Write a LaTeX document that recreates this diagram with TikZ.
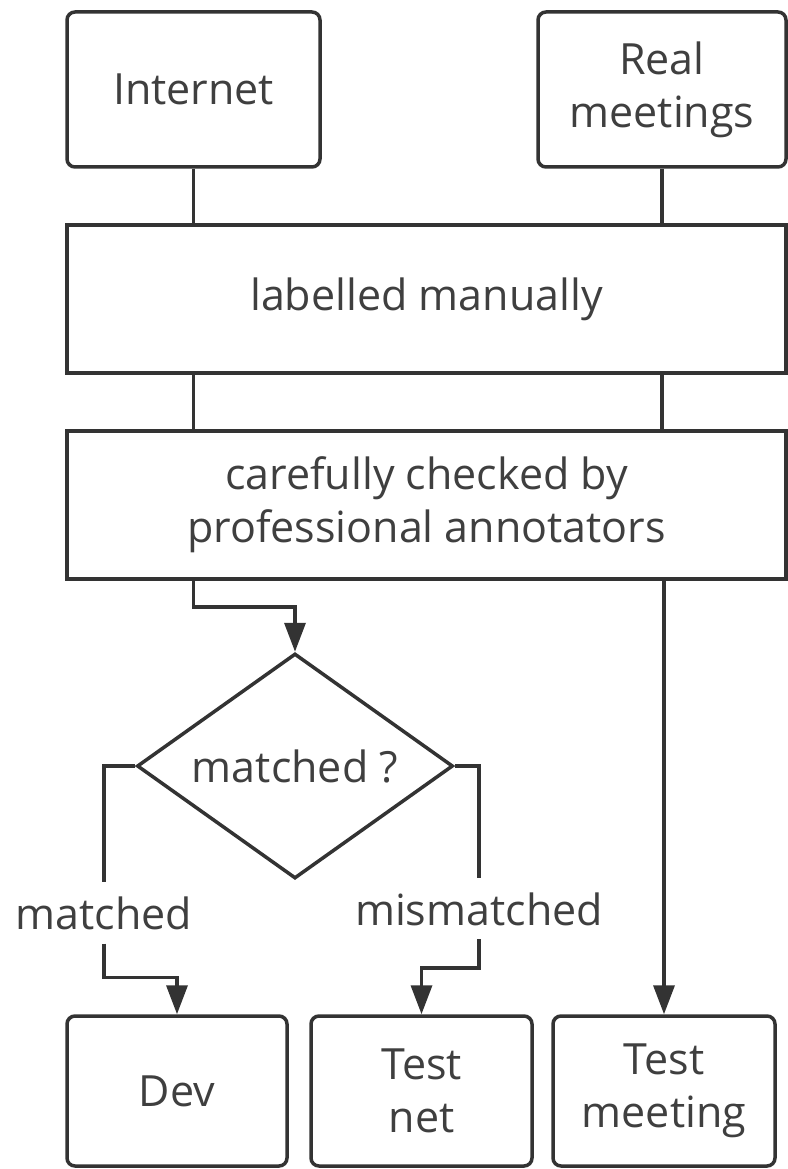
\documentclass[tikz,border=0pt]{standalone}
\usepackage{fontspec}
\setmainfont{Open Sans}
\usetikzlibrary{shapes.geometric,arrows.meta}
\definecolor{linegray}{HTML}{333333}
\definecolor{textgray}{HTML}{3F3F3F}

\begin{document}
\begin{tikzpicture}[x=1pt,y=-1pt]
\tikzstyle{every node}+=[inner sep=0pt, text=textgray, font=\fontsize{43}{53}\selectfont]
\tikzstyle{srcbox}=[draw=linegray, line width=3.5pt, rounded corners=8pt, align=center]
\tikzstyle{stagebox}=[draw=linegray, line width=3.5pt, minimum width=719pt, minimum height=148pt, align=center]
\tikzstyle{wire}=[draw=linegray, line width=3.5pt]
\tikzstyle{flow}=[wire, -{Triangle[length=29pt,width=21pt]}]
\tikzstyle{edgelabel}=[text height=33pt, text depth=0pt, inner ysep=14pt]
\useasboundingbox (0,0) rectangle (787,1169);
\node[srcbox, minimum width=253pt, minimum height=155pt] (internet) at (193.5,89.5) {Internet};
\node[srcbox, minimum width=248pt, minimum height=155pt] (real) at (662,89.5) {Real\\meetings};
\node[stagebox] (labelled) at (426.5,299) {labelled manually};
\node[stagebox] (checked) at (426.5,505) {carefully checked by\\professional annotators};
\node[draw=linegray, line width=3.5pt, shape=diamond, minimum width=316pt, minimum height=225pt] (match) at (295,766) {\makebox[0pt]{matched ?}};
\node[srcbox, minimum width=220pt, minimum height=150pt] (dev) at (177,1091) {Dev};
\node[srcbox, minimum width=221pt, minimum height=150pt] (testnet) at (421.5,1091) {Test\\net};
\node[srcbox, minimum width=222pt, minimum height=150pt] (testmeet) at (664,1091) {Test\\meeting};
\node[edgelabel] (yes) at (104,913) {matched};
\node[edgelabel] (no) at (479,908.5) {mismatched};
\draw[wire] (internet.south) -- (internet.south |- labelled.north);
\draw[wire] (real.south) -- (real.south |- labelled.north);
\draw[wire] (labelled.south -| internet.south) -- (checked.north -| internet.south);
\draw[wire] (labelled.south -| real.south) -- (checked.north -| real.south);
\draw[flow] (checked.south -| internet.south) -- ++(0,26) -| (match.north);
\draw[flow] (checked.south -| testmeet.north) -- (testmeet.north);
\draw[wire] (match.west) -| (yes.north);
\draw[flow] (yes.south) -- ++(0,34) -| (dev.north);
\draw[wire] (match.east) -| (no.north);
\draw[flow] (no.south) -- ++(0,29) -| (testnet.north);
\end{tikzpicture}
\end{document}
